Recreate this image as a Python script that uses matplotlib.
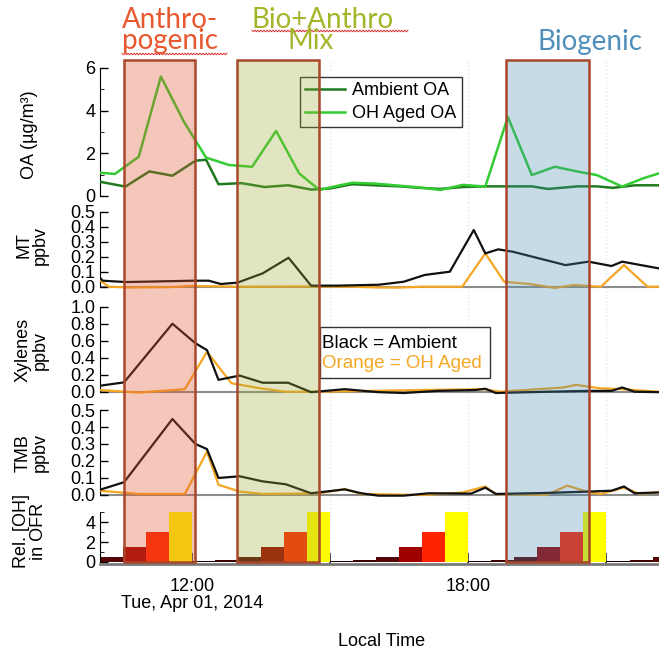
import numpy as np
import matplotlib.pyplot as plt
from matplotlib.patches import Rectangle
from matplotlib.colors import to_rgba
from matplotlib.transforms import blended_transform_factory

plt.rcParams['font.family'] = ['Liberation Sans', 'DejaVu Sans']

# ---- data (time in decimal hours, local time, Apr 01 2014) ----
oa_amb_t = [10.0, 10.56, 11.08, 11.58, 12.08, 12.31, 12.58, 13.08, 13.58, 14.09, 14.59, 15.0, 15.48,
            15.97, 16.52, 16.95, 17.39, 17.89, 18.37, 18.86, 19.38, 19.73, 20.38, 20.79, 21.14, 21.62, 22.14]
oa_amb = [0.67, 0.44, 1.15, 0.95, 1.65, 1.7, 0.55, 0.6, 0.42, 0.5, 0.3, 0.35, 0.55,
          0.5, 0.45, 0.38, 0.33, 0.42, 0.45, 0.45, 0.45, 0.33, 0.45, 0.45, 0.38, 0.5, 0.5]
oa_aged_t = [10.0, 10.33, 10.85, 11.33, 11.83, 12.31, 12.81, 13.31, 13.83, 14.33, 14.77, 15.0, 15.48,
             15.97, 16.52, 16.95, 17.39, 17.89, 18.37, 18.86, 19.38, 19.88, 20.38, 20.79, 21.34, 21.8, 22.14]
oa_aged = [1.09, 1.03, 1.84, 5.6, 3.48, 1.8, 1.45, 1.37, 3.05, 1.06, 0.28, 0.4, 0.62,
           0.58, 0.48, 0.4, 0.28, 0.52, 0.44, 3.7, 0.98, 1.37, 1.14, 0.98, 0.44, 0.83, 1.06]

mt_amb_t = [10.0, 10.07, 10.57, 12.04, 12.37, 12.63, 12.99, 13.54, 14.1, 14.59, 15.14, 16.05, 16.6,
            17.05, 17.6, 18.12, 18.37, 18.65, 18.97, 20.11, 20.61, 21.11, 21.34, 22.14]
mt_amb = [0.062, 0.04, 0.031, 0.04, 0.04, 0.018, 0.027, 0.089, 0.193, 0.007, 0.007, 0.013, 0.033,
          0.078, 0.10, 0.378, 0.222, 0.249, 0.233, 0.144, 0.167, 0.138, 0.167, 0.122]
mt_aged_t = [10.0, 10.2, 10.6, 11.5, 12.0, 12.5, 13.0, 14.5, 15.5, 16.0, 16.5, 17.0, 17.87, 18.37,
             18.78, 19.33, 19.88, 20.29, 20.88, 21.38, 21.89, 22.14]
mt_aged = [0.044, 0.0, -0.005, -0.003, 0.005, 0.003, 0.0, 0.002, 0.0, -0.005, -0.006, 0.0, 0.0, 0.222,
           0.033, 0.018, -0.008, 0.011, 0.0, 0.144, 0.0, 0.0]

xyl_amb_t = [10.0, 10.53, 11.58, 12.08, 12.33, 12.58, 13.04, 13.54, 14.09, 14.59, 15.32, 16.05, 16.6,
             17.33, 18.15, 18.37, 18.6, 19.7, 20.61, 21.11, 21.34, 21.61, 22.14]
xyl_amb = [0.07, 0.11, 0.80, 0.57, 0.49, 0.14, 0.19, 0.106, 0.106, -0.005, 0.03, -0.005, -0.015,
           0.01, 0.02, 0.035, -0.015, 0.0, 0.01, 0.01, 0.05, 0.0, -0.005]
xyl_aged_t = [10.0, 10.85, 11.85, 12.33, 12.86, 13.49, 14.04, 14.77, 16.96, 18.33, 18.69, 20.06, 20.34,
              20.88, 21.34, 22.14]
xyl_aged = [0.02, -0.01, 0.03, 0.47, 0.10, 0.04, 0.0, 0.0, 0.02, 0.03, 0.0, 0.05, 0.08,
            0.04, 0.03, 0.0]

tmb_amb_t = [10.0, 10.53, 11.58, 12.08, 12.33, 12.58, 13.04, 13.54, 14.04, 14.59, 15.32, 15.68, 16.05,
             16.6, 17.14, 18.06, 18.37, 18.6, 19.7, 20.61, 21.11, 21.38, 21.61, 22.14]
tmb_amb = [0.03, 0.075, 0.447, 0.30, 0.27, 0.10, 0.11, 0.08, 0.063, 0.01, 0.033, 0.01, -0.004,
           -0.004, 0.01, 0.008, 0.043, 0.006, 0.012, 0.02, 0.025, 0.05, 0.01, 0.015]
tmb_aged_t = [10.0, 10.85, 11.85, 12.33, 12.58, 13.04, 13.54, 14.77, 15.32, 15.68, 16.96, 17.87, 18.37,
              18.6, 19.7, 20.15, 20.61, 20.88, 21.38, 21.7, 22.14]
tmb_aged = [0.025, 0.006, 0.006, 0.255, 0.06, 0.02, 0.006, 0.01, 0.035, 0.006, 0.0, 0.014, 0.05,
            0.005, 0.0, 0.055, 0.016, 0.006, 0.043, 0.008, 0.015]

# OFR steps: start time of each 30-min step and its relative OH level
ofr_t = [10.0, 10.5, 11.0, 11.5, 12.0, 12.5, 13.0, 13.5, 14.0, 14.5, 15.0, 15.5, 16.0, 16.5, 17.0, 17.5,
         18.0, 18.5, 19.0, 19.5, 20.0, 20.5, 21.0, 21.5, 22.0]
ofr_val = [0.5, 1.5, 3, 5, 0.05, 0.2, 0.5, 1.5, 3, 5, 0.05, 0.2, 0.5, 1.5, 3, 5,
           0.05, 0.2, 0.5, 1.5, 3, 5, 0.05, 0.2, 0.5]
ofr_colors = {0.05: '#1a0000', 0.2: '#3c0202', 0.5: '#540606', 1.5: '#9c0000', 3: '#ff2400', 5: '#ffff00'}

regions = [(10.53, 12.06, '#e15631', 0.33), (12.99, 14.77, '#9fac35', 0.30), (18.81, 20.61, '#488ab2', 0.30)]

# ---- layout helpers (pixel coords from top-left) ----
W, H = 659, 655
def fy(y):
    return 1 - y / H

fig = plt.figure(figsize=(W / 100, H / 100), dpi=100)
XL, XR = 99.6, 659
xlim = (10.0, 10.0 + (XR - XL) / 46.08)

# top px, bottom px, ylim
panels = [(62, 203, (-0.33, 6.28)),
          (203, 296, (-0.062, 0.558)),
          (296, 401, (-0.109, 1.126)),
          (401, 505, (-0.059, 0.553)),
          (505, 564, (-0.23, 5.76))]

axes = []
for top, bot, yl in panels:
    ax = fig.add_axes([XL / W, fy(bot), (XR - XL) / W, (bot - top) / H])
    ax.set_xlim(*xlim)
    ax.set_ylim(*yl)
    ax.patch.set_alpha(0)
    for s in ['top', 'right', 'bottom']:
        ax.spines[s].set_visible(False)
    ax.tick_params(axis='y', direction='in', labelsize=13, pad=3, length=6, width=1)
    ax.tick_params(axis='y', which='minor', direction='in', length=3)
    ax.tick_params(axis='x', bottom=False, labelbottom=False)
    for g in [12, 15, 18, 21]:
        ax.axvline(g, color='#dfe5f4', lw=1, ls=':', zorder=0)
    axes.append(ax)

ax_oa, ax_mt, ax_xyl, ax_tmb, ax_ofr = axes

# OA
ax_oa.plot(oa_amb_t, oa_amb, color='#1f7a1f', lw=1.8, label='Ambient OA', zorder=3)
ax_oa.plot(oa_aged_t, oa_aged, color='#33cc33', lw=1.8, label='OH Aged OA', zorder=3)
ax_oa.set_yticks([0, 2, 4, 6])
ax_oa.set_yticks([1, 3, 5], minor=True)
ax_oa.spines['left'].set_bounds(0, 6)
leg = ax_oa.legend(loc='upper left', bbox_to_anchor=((300 - XL) / (XR - XL), 1 - (77 - 62) / 141),
                   fontsize=13, frameon=True, fancybox=False, handlelength=2.2, handletextpad=0.4,
                   borderpad=0.3, labelspacing=0.3, borderaxespad=0)
leg.get_frame().set_edgecolor('#333333')
leg.get_frame().set_linewidth(1)
leg.get_frame().set_alpha(1)

def tracer(ax, ta, ya, tb, yb, ticks, labels, top):
    ax.axhline(0, color='#8c8c8c', lw=1.5, zorder=1)
    ax.plot(tb, yb, color='#f5a623', lw=1.6, zorder=3)
    ax.plot(ta, ya, color='#111111', lw=1.6, zorder=4)
    ax.set_yticks(ticks)
    ax.set_yticklabels(labels)
    ax.spines['left'].set_bounds(0, top)

tracer(ax_mt, mt_amb_t, mt_amb, mt_aged_t, mt_aged, [0, .1, .2, .3, .4, .5],
       ['0.0', '0.1', '0.2', '0.3', '0.4', '0.5'], 0.5)
tracer(ax_xyl, xyl_amb_t, xyl_amb, xyl_aged_t, xyl_aged, [0, .2, .4, .6, .8, 1.0],
       ['0.0', '0.2', '0.4', '0.6', '0.8', '1.0'], 1.0)
tracer(ax_tmb, tmb_amb_t, tmb_amb, tmb_aged_t, tmb_aged, [0, .1, .2, .3, .4, .5],
       ['0.0', '0.1', '0.2', '0.3', '0.4', '0.5'], 0.5)

# Black / Orange note box
fig.text(322 / W, fy(343), 'Black = Ambient', fontsize=13.5, color='black', va='center', ha='left')
fig.text(322 / W, fy(364), 'Orange = OH Aged', fontsize=13.5, color='#f5a623', va='center', ha='left')
fig.add_artist(Rectangle((320 / W, fy(378)), (490 - 320) / W, (378 - 327) / H, transform=fig.transFigure,
                         facecolor='white', edgecolor='#333333', lw=1, zorder=2))

# OFR bars
ax_ofr.bar(ofr_t, ofr_val, width=0.5, align='edge', color=[ofr_colors[v] for v in ofr_val],
           edgecolor='none', zorder=2)
ax_ofr.set_yticks([0, 2, 4])
ax_ofr.set_yticks([1, 3, 5], minor=True)
ax_ofr.spines['left'].set_bounds(0, 5)
ax_ofr.spines['bottom'].set_visible(True)
ax_ofr.spines['bottom'].set_color('#7a7a7a')
ax_ofr.spines['bottom'].set_linewidth(2)
ax_ofr.tick_params(axis='x', bottom=True, labelbottom=True, direction='in', length=8, width=1.2,
                   color='#333333', labelsize=13, pad=10)
ax_ofr.set_xticks([12, 15, 18, 21])
ax_ofr.set_xticklabels(['12:00\nTue, Apr 01, 2014', '', '18:00', ''])
for lab in ax_ofr.get_xticklabels():
    lab.set_linespacing(1.0)

# y labels
ylab = [('OA (µg/m³)', 30, 135), ('MT\nppbv', 32, 245), ('Xylenes\nppbv', 32, 350),
        ('TMB\nppbv', 32, 453), ('Rel. [OH]\nin OFR', 30, 531)]
for txt, x, y in ylab:
    fig.text(x / W, fy(y), txt, rotation=90, ha='center', va='center', fontsize=13,
             linespacing=1.0, multialignment='center')

fig.text(382 / W, fy(641), 'Local Time', ha='center', va='center', fontsize=13)

# shaded source regions, drawn over the figure
tr = blended_transform_factory(ax_ofr.transData, fig.transFigure)
for x0, x1, c, a in regions:
    fig.add_artist(Rectangle((x0, fy(562)), x1 - x0, (562 - 60) / H, transform=tr,
                             facecolor=to_rgba(c, a), edgecolor='#a9472a', lw=1.8, zorder=10))

# header labels
hdr = dict(family=['Lato', 'DejaVu Sans'], fontsize=20, va='baseline', ha='left')
fig.text(122 / W, fy(28), 'Anthro-', color='#e8572e', **hdr)
fig.text(122 / W, fy(49), 'pogenic', color='#e8572e', **hdr)
fig.text(252 / W, fy(28), 'Bio+Anthro', color='#a5b52a', **hdr)
fig.text(311 / W, fy(49), 'Mix', color='#a5b52a', **{**hdr, 'ha': 'center'})
fig.text(538 / W, fy(50), 'Biogenic', color='#4f8fba', **hdr)

# spell-check squiggles
for xa, xb, yy in [(122, 228, 54), (252, 408, 31)]:
    xs = np.arange(xa, xb + 0.1, 1.5)
    ys = yy + np.where(np.arange(len(xs)) % 2 == 0, -0.8, 0.8)
    fig.add_artist(plt.Line2D(xs / W, fy(ys), color='#e03030', lw=0.7, transform=fig.transFigure))

fig.savefig('out.png', dpi=100)
